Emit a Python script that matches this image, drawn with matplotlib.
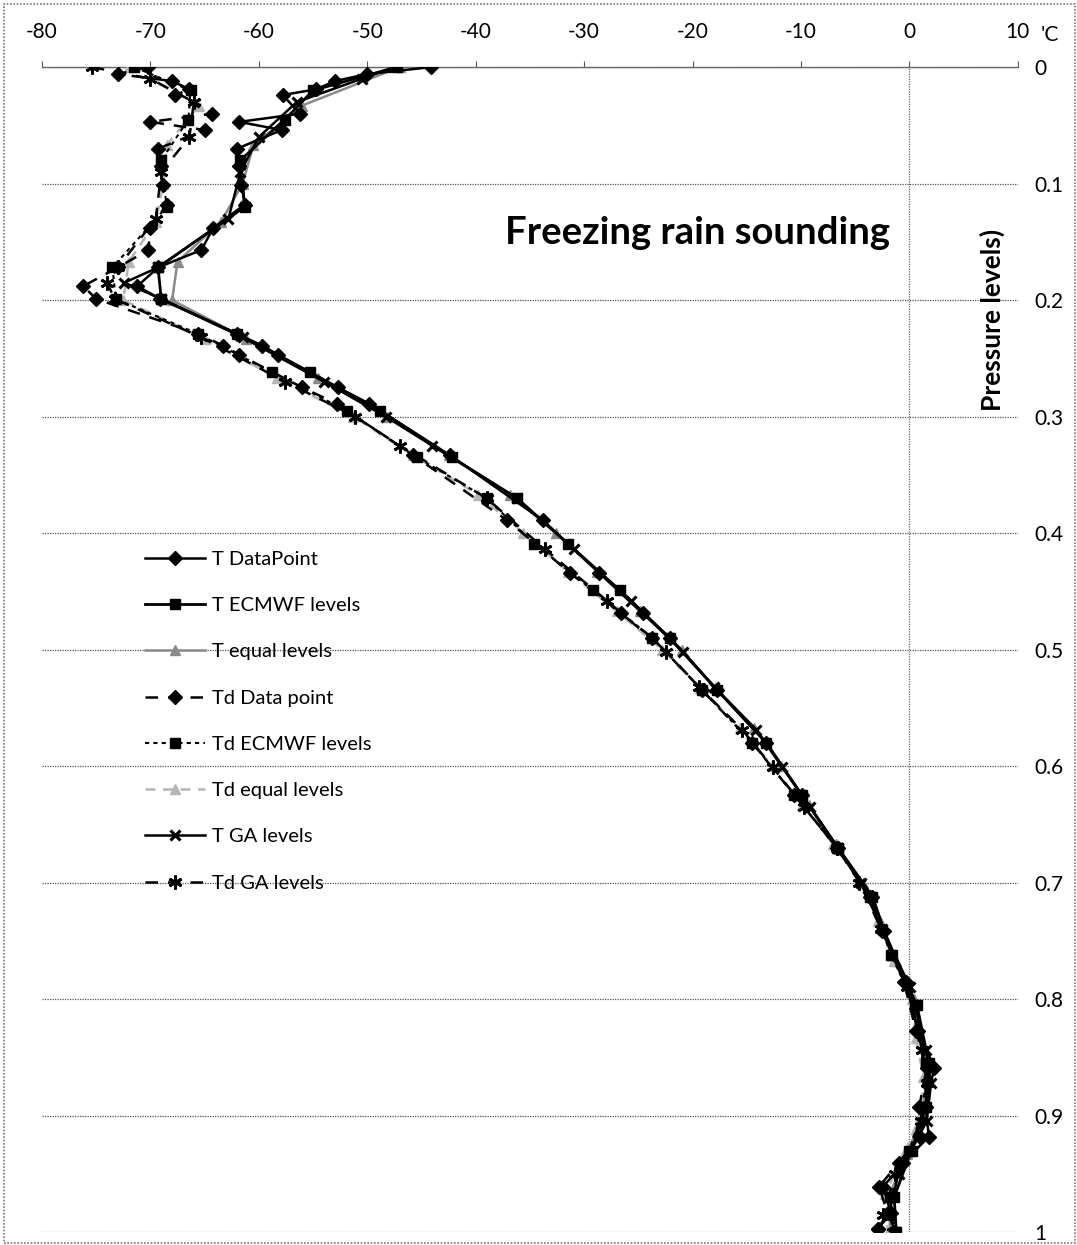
import matplotlib
matplotlib.use("Agg")
import matplotlib.pyplot as plt
from matplotlib.patches import Rectangle

plt.rcParams['font.family'] = ['Lato', 'DejaVu Sans']

# pressure levels (normalised) for each level set
P_DP = [0.000, 0.006, 0.012, 0.019, 0.024, 0.040, 0.047, 0.054, 0.070, 0.085,
        0.101, 0.118, 0.138, 0.157, 0.172, 0.188, 0.199, 0.229, 0.239, 0.247,
        0.275, 0.289, 0.333, 0.389, 0.434, 0.469, 0.490, 0.535, 0.580, 0.625,
        0.670, 0.712, 0.742, 0.785, 0.827, 0.859, 0.893, 0.918, 0.941, 0.961,
        0.984, 0.997]
T_DP = [-44.1, -50.0, -53.0, -54.7, -57.8, -56.2, -61.8, -57.9, -62.0, -61.8,
        -61.6, -61.3, -64.2, -65.3, -69.3, -71.2, -69.1, -62.0, -59.7, -58.2,
        -52.7, -49.8, -42.4, -33.8, -28.6, -24.6, -22.1, -17.7, -13.2, -9.9,
        -6.6, -3.4, -2.3, -0.3, 0.8, 2.3, 1.5, 1.8, -0.6, -2.4,
        -1.7, -2.9]
TD_DP = [-70.2, -73.0, -68.0, -66.4, -67.7, -64.3, -70.0, -65.0, -69.3, -69.0,
         -68.8, -68.5, -70.0, -70.2, -73.0, -76.2, -75.0, -65.6, -63.3, -61.8,
         -56.0, -52.8, -45.8, -37.1, -31.3, -26.6, -23.7, -19.1, -14.5, -10.6,
         -6.7, -3.6, -2.5, -0.5, 0.6, 1.6, 0.9, 1.0, -1.0, -2.8,
         -2.0, -2.9]

P_EC = [0.000, 0.020, 0.045, 0.080, 0.120, 0.172, 0.199, 0.229, 0.262, 0.295,
        0.335, 0.370, 0.409, 0.449, 0.490, 0.535, 0.580, 0.625, 0.670, 0.712,
        0.762, 0.805, 0.855, 0.893, 0.930, 0.970, 1.000]
T_EC = [-47.3, -55.0, -57.6, -61.7, -61.3, -69.3, -69.0, -62.0, -55.3, -48.8,
        -42.2, -36.2, -31.5, -26.7, -22.1, -17.7, -13.2, -9.9, -6.6, -3.4,
        -1.6, 0.7, 1.8, 1.5, 0.2, -1.4, -1.2]
TD_EC = [-71.5, -66.3, -66.5, -69.0, -68.5, -73.5, -73.2, -65.6, -58.8, -51.9,
         -45.4, -39.0, -34.6, -29.2, -23.7, -19.1, -14.5, -10.6, -6.7, -3.6,
         -1.7, 0.5, 1.5, 1.3, 0.0, -1.8, -1.3]

P_EQ = [0.000, 0.033, 0.067, 0.100, 0.133, 0.167, 0.200, 0.233, 0.267, 0.300,
        0.333, 0.367, 0.400, 0.433, 0.467, 0.500, 0.533, 0.567, 0.600, 0.633,
        0.667, 0.700, 0.733, 0.767, 0.800, 0.833, 0.867, 0.900, 0.933, 0.967,
        1.000]
T_EQ = [-47.0, -56.0, -60.5, -61.5, -63.5, -67.5, -68.0, -61.2, -54.5, -48.2,
        -42.5, -36.8, -32.6, -28.8, -24.8, -21.0, -17.9, -14.3, -11.8, -9.3,
        -6.8, -4.3, -2.7, -1.2, 0.4, 0.9, 1.6, 1.2, -0.2, -1.8,
        -1.8]
TD_EQ = [-72.0, -65.5, -68.5, -68.8, -69.5, -72.0, -72.5, -65.0, -58.3, -51.3,
         -45.8, -39.8, -35.6, -31.5, -27.0, -22.8, -19.3, -15.6, -12.7, -9.9,
         -7.0, -4.5, -2.9, -1.4, 0.2, 0.6, 1.3, 1.0, -0.5, -2.2,
         -2.0]

P_GA = [0.000, 0.010, 0.030, 0.060, 0.090, 0.130, 0.172, 0.185, 0.199, 0.232,
        0.270, 0.300, 0.325, 0.370, 0.414, 0.458, 0.502, 0.532, 0.569, 0.601,
        0.635, 0.670, 0.700, 0.740, 0.790, 0.844, 0.872, 0.905, 0.950, 0.985,
        1.000]
T_GA = [-47.5, -50.5, -56.5, -60.0, -61.7, -62.8, -69.3, -72.4, -69.0, -61.5,
        -54.0, -48.3, -44.0, -36.2, -30.9, -25.7, -20.9, -18.0, -14.1, -11.7,
        -9.2, -6.6, -4.5, -2.5, 0.1, 1.5, 2.0, 1.6, -1.0, -1.9,
        -1.3]
TD_GA = [-75.4, -70.0, -66.0, -66.4, -69.0, -69.5, -73.0, -74.0, -73.3, -65.3,
         -57.6, -51.1, -47.0, -39.0, -33.6, -27.9, -22.4, -19.4, -15.4, -12.6,
         -9.7, -6.7, -4.6, -2.6, -0.2, 1.2, 1.6, 1.1, -1.3, -2.4,
         -1.5]

X_TICKS = [-80, -70, -60, -50, -40, -30, -20, -10, 0, 10]
Y_TICKS = [0, 0.1, 0.2, 0.3, 0.4, 0.5, 0.6, 0.7, 0.8, 0.9, 1]
Y_LABELS = ['0', '0.1', '0.2', '0.3', '0.4', '0.5', '0.6', '0.7', '0.8', '0.9', '1']

fig = plt.figure(figsize=(10.77, 12.45), dpi=100)
ax = fig.add_axes([0.039, 0.0104, 0.906, 0.9357])

grey = '#8a8a8a'
light = '#b5b5b5'

ax.plot(T_DP, P_DP, color='black', lw=1.8, marker='D', ms=7.5, label='T DataPoint', zorder=5)
ax.plot(T_EC, P_EC, color='black', lw=2.0, marker='s', ms=6.5, label='T ECMWF levels', zorder=5)
ax.plot(T_EQ, P_EQ, color=grey, lw=1.8, marker='^', ms=6.5, label='T equal levels', zorder=3)
ax.plot(TD_DP, P_DP, color='black', lw=1.8, ls=(0, (5, 4)), marker='D', ms=7.5,
        label='Td Data point', zorder=5)
ax.plot(TD_EC, P_EC, color='black', lw=1.5, ls=(0, (2, 2)), marker='s', ms=6.5,
        label='Td ECMWF levels', zorder=5)
ax.plot(TD_EQ, P_EQ, color=light, lw=1.8, ls=(0, (4, 3)), marker='^', ms=6.5,
        label='Td equal levels', zorder=3)
ax.plot(T_GA, P_GA, color='black', lw=1.8, marker='x', ms=7.5, mew=2.2,
        label='T GA levels', zorder=5)
ax.plot(TD_GA, P_GA, color='black', lw=1.8, ls=(0, (5, 4)), marker=(6, 2, 0), ms=10, mew=2,
        label='Td GA levels', zorder=5)

ax.set_xlim(-80, 10)
ax.set_ylim(1, 0)

ax.xaxis.tick_top()
ax.set_xticks(X_TICKS)
ax.set_xticklabels([str(v) for v in X_TICKS])
ax.tick_params(axis='x', direction='out', length=4, width=0.8, color='#555555',
               pad=14, labelsize=15)

ax.yaxis.tick_right()
ax.set_yticks(Y_TICKS)
ax.set_yticklabels(Y_LABELS)
ax.tick_params(axis='y', length=0, pad=12, labelsize=15)
for lbl in ax.get_yticklabels():
    lbl.set_horizontalalignment('left')

for side in ['left', 'right', 'bottom']:
    ax.spines[side].set_visible(False)
ax.spines['top'].set_color('#666666')
ax.spines['top'].set_linestyle((0, (1, 1)))
ax.spines['top'].set_linewidth(1.0)

ax.grid(axis='y', color='#555555', linestyle=(0, (1, 1)), linewidth=0.9, zorder=0)
ax.axvline(0, color='#666666', linestyle=(0, (1, 1)), linewidth=0.9, zorder=0)

ax.text(-19.5, 0.142, 'Freezing rain sounding', fontsize=27.5, fontweight='bold',
        ha='center', va='center')

fig.text(0.921, 0.743, 'Pressure levels)', rotation=90, fontsize=19,
         fontweight='bold', ha='center', va='center')
fig.text(0.975, 0.972, "'C", fontsize=15, ha='center', va='center')

leg = ax.legend(loc='upper left', bbox_to_anchor=(0.095, 0.5936), frameon=False,
                numpoints=1, fontsize=14.5, labelspacing=1.45, handlelength=3.0,
                handletextpad=0.35, borderpad=0)

fig.patches.append(Rectangle((0.004, 0.002), 0.994, 0.995, transform=fig.transFigure,
                             fill=False, edgecolor='#777777', lw=1.2, ls=(0, (1, 1))))

fig.savefig('out.png', dpi=100)
